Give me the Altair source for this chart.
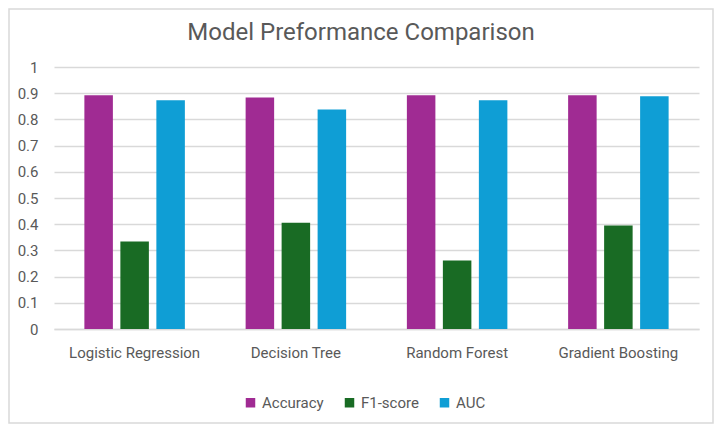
import altair as alt
import pandas as pd

title_text = "Model Preformance Comparison"
models = ["Logistic Regression", "Decision Tree", "Random Forest", "Gradient Boosting"]
metrics = ["Accuracy", "F1-score", "AUC"]
accuracy = [0.892, 0.884, 0.892, 0.892]
f1_score = [0.334, 0.406, 0.261, 0.395]
auc = [0.873, 0.838, 0.873, 0.888]
colors = ["#A02B93", "#196B24", "#0F9ED5"]

rows = []
for i, m in enumerate(models):
    for metric, vals in zip(metrics, [accuracy, f1_score, auc]):
        rows.append({"model": m, "metric": metric, "value": vals[i]})
df = pd.DataFrame(rows)

W, H = 645, 262
PL, PT, PR, PB = 46, 59, 15, 95
FONT = "Roboto"
GRAY = "#595959"

bars = alt.Chart(df).mark_bar().encode(
    x=alt.X("model:N", sort=models, title=None,
            scale=alt.Scale(paddingInner=0, paddingOuter=0),
            axis=alt.Axis(labelAngle=0, ticks=False, domain=True, domainColor="#D9D9D9",
                          domainWidth=1.5, labelPadding=16, labelFontSize=15,
                          labelColor=GRAY, labelFont=FONT)),
    xOffset=alt.XOffset("metric:N", sort=metrics,
                        scale=alt.Scale(paddingInner=0.208, paddingOuter=0.844)),
    y=alt.Y("value:Q", title=None,
            scale=alt.Scale(domain=[0, 1]),
            axis=alt.Axis(values=[i / 10 for i in range(11)], format="~g", domain=False,
                          ticks=False, gridColor="#D9D9D9", gridWidth=1.5, labelPadding=16,
                          labelFontSize=15, labelColor=GRAY, labelFont=FONT)),
    color=alt.Color("metric:N", sort=metrics, scale=alt.Scale(domain=metrics, range=colors),
                    legend=alt.Legend(title=None, orient="none", direction="horizontal",
                                      legendX=189, legendY=328, symbolType="square",
                                      symbolSize=90, symbolStrokeWidth=0, labelFontSize=15,
                                      labelColor=GRAY, labelFont=FONT, columnPadding=18,
                                      labelOffset=4)),
)

border = alt.Chart(alt.Data(values=[{}])).mark_rect(
    fill=None, stroke="#D9D9D9", strokeWidth=1.5
).encode(
    x=alt.value(-PL + 1), x2=alt.value(W + PR - 1),
    y=alt.value(-PT + 1), y2=alt.value(H + PB - 1),
)

title = alt.Chart(alt.Data(values=[{"t": title_text}])).mark_text(
    font=FONT, fontSize=24, color=GRAY, align="center", baseline="alphabetic"
).encode(text="t:N", x=alt.value(307), y=alt.value(-27))

chart = alt.layer(bars, border, title).properties(
    width=W, height=H,
    autosize=alt.AutoSizeParams(type="none"),
    padding={"left": PL, "top": PT, "right": PR, "bottom": PB},
).configure_view(stroke=None)

chart.save("out.html", embed_options={"renderer": "svg", "actions": False})
